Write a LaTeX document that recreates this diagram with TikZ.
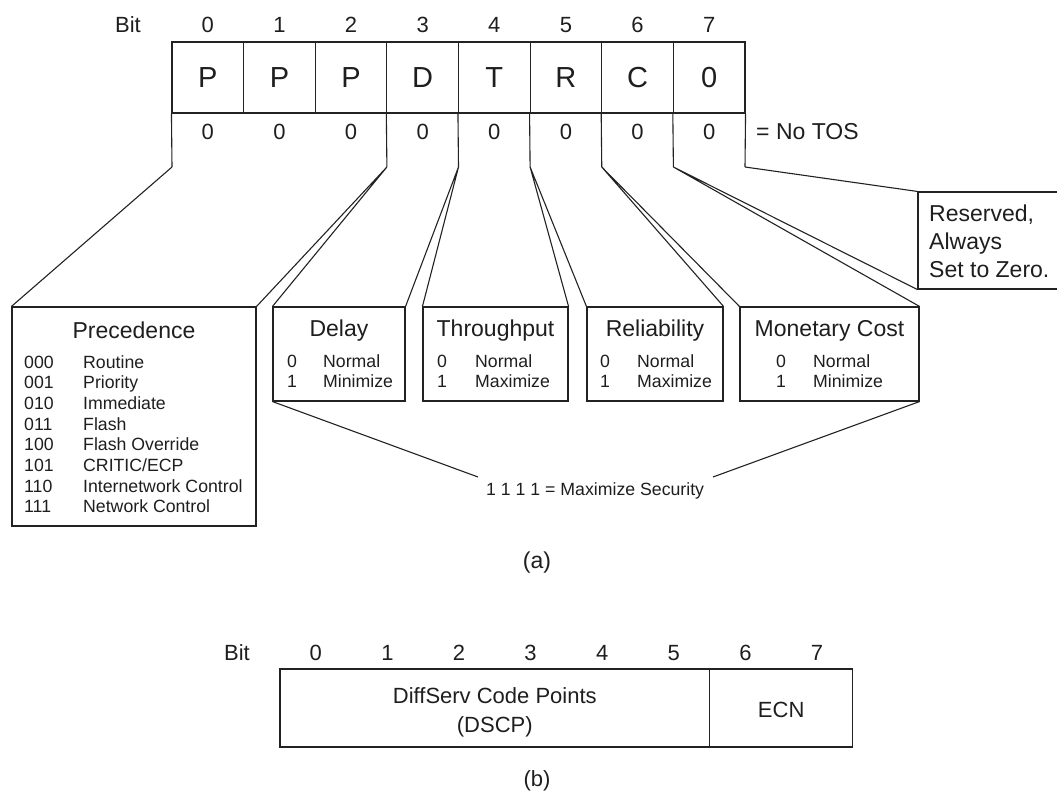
\documentclass[tikz,border=0pt]{standalone}
\usepackage{fontspec}
\setmainfont{Liberation Sans}
\definecolor{inkc}{HTML}{222222}
\definecolor{txtc}{HTML}{1E1E1E}
\begin{document}
\begin{tikzpicture}[x=1pt,y=-1pt,
  ink/.style={line width=1.1pt, draw=inkc, line join=miter},
  cell/.style={ink, minimum width=71.625pt, minimum height=71pt, inner sep=0pt,
    font=\fontsize{29}{34}\selectfont, text=txtc},
  panel/.style={ink, inner sep=0pt},
  bignum/.style={inner sep=0pt, anchor=base, font=\fontsize{22}{26}\selectfont, text=txtc},
  title/.style={inner sep=0pt, anchor=base, font=\fontsize{23}{27}\selectfont, text=txtc},
  label/.style={inner sep=0pt, anchor=base west, font=\fontsize{23}{27}\selectfont, text=txtc},
  small/.style={inner sep=0pt, anchor=base west, font=\fontsize{17.7}{21}\selectfont, text=txtc}]
\useasboundingbox (0,0) rectangle (1057,791);

% ---------- (a) the eight-bit TOS field ----------
\node[bignum] (bitA) at (128,33) {Bit};
\foreach \l [count=\i from 0] in {P,P,P,D,T,R,C,0} {
  \node[cell] (t\i) at ({172+71.625*(\i+0.5)},77.5) {\l};
  \node[bignum] (n\i) at ({172+71.625*(\i+0.5)},33) {\i};
  \node[bignum] (z\i) at ({172+71.625*(\i+0.5)},140) {0};
}
\node[label] (notos) at (756,140) {= No TOS};

% lower ends of the field separators
\coordinate (v0) at (172,167);
\coordinate (v3) at (386.9,167);
\coordinate (v4) at (458.5,167);
\coordinate (v5) at (530.1,167);
\coordinate (v6) at (601.75,167);
\coordinate (v7) at (673.4,167);
\coordinate (v8) at (745,167);
\draw[ink] (t0.south west) -- (v0);
\draw[ink] (t3.south west) -- (v3);
\draw[ink] (t4.south west) -- (v4);
\draw[ink] (t5.south west) -- (v5);
\draw[ink] (t6.south west) -- (v6);
\draw[ink] (t7.south west) -- (v7);
\draw[ink] (t7.south east) -- (v8);

% explanation panels
\node[panel, minimum width=244pt, minimum height=219pt] (prec) at (134,416.5) {};
\node[panel, minimum width=132pt, minimum height=94pt] (delay) at (339,354) {};
\node[panel, minimum width=145pt, minimum height=94pt] (thru) at (495.5,354) {};
\node[panel, minimum width=136pt, minimum height=94pt] (rel) at (655,354) {};
\node[panel, minimum width=179pt, minimum height=94pt] (mon) at (829.5,354) {};
\node[panel, minimum width=160pt, minimum height=97pt] (res) at (998,240.5) {};

% Precedence
\node[title] (precT) at (134,338) {Precedence};
\foreach \c/\t [count=\k from 0] in {000/Routine,001/Priority,010/Immediate,011/Flash,
    100/Flash Override,101/CRITIC\slash ECP,110/Internetwork Control,111/Network Control} {
  \node[small] (pc\k) at (24,{368+20.7*\k}) {\c};
  \node[small] (pt\k) at (83,{368+20.7*\k}) {\t};
}

% Delay
\node[title] (delayT) at (339,337) {Delay};
\node[small] (d0) at (287,367) {0};
\node[small] (d0t) at (323,367) {Normal};
\node[small] (d1) at (287,388) {1};
\node[small] (d1t) at (323,388) {Minimize};

% Throughput
\node[title] (thruT) at (495.5,337) {Throughput};
\node[small] (h0) at (437,367) {0};
\node[small] (h0t) at (475,367) {Normal};
\node[small] (h1) at (437,388) {1};
\node[small] (h1t) at (475,388) {Maximize};

% Reliability
\node[title] (relT) at (655,337) {Reliability};
\node[small] (r0) at (600,367) {0};
\node[small] (r0t) at (637,367) {Normal};
\node[small] (r1) at (600,388) {1};
\node[small] (r1t) at (637,388) {Maximize};

% Monetary Cost
\node[title] (monT) at (829.5,337) {Monetary Cost};
\node[small] (m0) at (776,367) {0};
\node[small] (m0t) at (813,367) {Normal};
\node[small] (m1) at (776,388) {1};
\node[small] (m1t) at (813,388) {Minimize};

% Reserved bit
\node[label] (res1) at (929,222) {Reserved,};
\node[label] (res2) at (929,250) {Always};
\node[label] (res3) at (929,278) {Set to Zero.};

% fan-out lines from the field to the panels
\draw[ink] (prec.north west) -- (v0);
\draw[ink] (prec.north east) -- (v3) -- (delay.north west);
\draw[ink] (delay.north east) -- (v4) -- (thru.north west);
\draw[ink] (thru.north east) -- (v5) -- (rel.north west);
\draw[ink] (rel.north east) -- (v6) -- (mon.north west);
\draw[ink] (mon.north east) -- (v7) -- (res.south west);
\draw[ink] (v8) -- (res.north west);

% security combination
\node[small] (sec) at (486,495) {1 1 1 1 = Maximize Security};
\coordinate (secL) at (478,477);
\coordinate (secR) at (713,477);
\draw[ink] (delay.south west) -- (secL);
\draw[ink] (mon.south east) -- (secR);

\node[title] (capA) at (537,568) {(a)};

% ---------- (b) the DiffServ field ----------
\node[bignum] (bitB) at (237,660) {Bit};
\foreach \i in {0,...,7} {
  \node[bignum] (m\i) at ({280+71.6*(\i+0.5)},660) {\i};
}
\node[panel, minimum width=429.6pt, minimum height=78pt] (dscp) at (494.8,708) {};
\node[panel, minimum width=143.2pt, minimum height=78pt] (ecn) at (781.2,708) {};
\node[bignum] (dscp1) at (494.8,703) {DiffServ Code Points};
\node[bignum] (dscp2) at (494.8,732) {(DSCP)};
\node[bignum] (ecnT) at (781.2,717) {ECN};

\node[bignum] (capB) at (537,786) {(b)};
\end{tikzpicture}
\end{document}
